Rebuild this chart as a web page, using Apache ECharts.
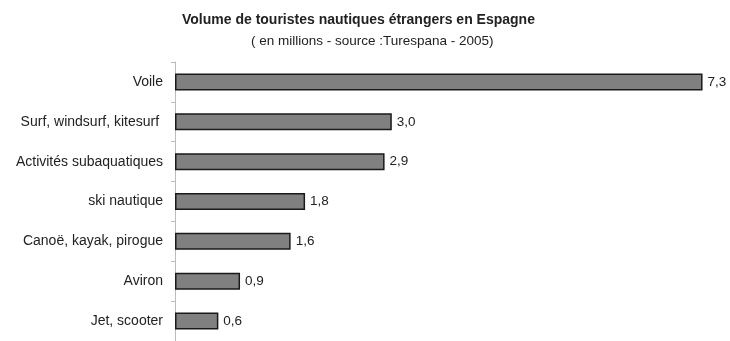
<!DOCTYPE html>
<html>
<head>
<meta charset="utf-8">
<script src="https://cdn.jsdelivr.net/npm/echarts@6/dist/echarts.min.js"></script>
<style>html,body{margin:0;padding:0;background:#fff;}#c{width:730px;height:341px;}</style>
</head>
<body>
<div id="c"></div>
<script>
const titleText = "Volume de touristes nautiques étrangers en Espagne";
const subtitleText = "( en millions - source :Turespana - 2005)";
const categories = ["Voile", "Surf, windsurf, kitesurf ", "Activités subaquatiques", "ski nautique", "Canoë, kayak, pirogue", "Aviron", "Jet, scooter"];
const values = [7.3, 3.0, 2.9, 1.8, 1.6, 0.9, 0.6];

const chart = echarts.init(document.getElementById('c'), null, {renderer: 'canvas'});
const font = 'Liberation Sans, Arial, sans-serif';
chart.setOption({
  animation: false,
  backgroundColor: '#fff',
  title: [
    {text: titleText, left: 177, top: 8, textStyle: {fontFamily: font, fontSize: 14, fontWeight: 'bold', color: '#222'}},
    {text: subtitleText, left: 246, top: 29, textStyle: {fontFamily: font, fontSize: 13.5, fontWeight: 'normal', color: '#222'}}
  ],
  grid: {left: 175, top: 62, width: 542, height: 283.5, containLabel: false},
  xAxis: {type: 'value', min: 0, max: 7.5, show: false},
  yAxis: {
    type: 'category', inverse: true, data: categories,
    axisLine: {show: true, lineStyle: {color: '#bbb', width: 1}},
    axisTick: {show: true, length: 4, lineStyle: {color: '#bbb'}},
    axisLabel: {fontFamily: font, fontSize: 14, color: '#222', margin: 12}
  },
  series: [{
    type: 'bar', data: values, barWidth: 17,
    itemStyle: {color: '#808080', borderColor: '#1a1a1a', borderWidth: 1.5},
    label: {show: true, position: 'right', distance: 5, fontFamily: font, fontSize: 13.5, color: '#222',
      formatter: p => p.value.toFixed(1).replace('.', ',')}
  }]
});
</script>
</body>
</html>
